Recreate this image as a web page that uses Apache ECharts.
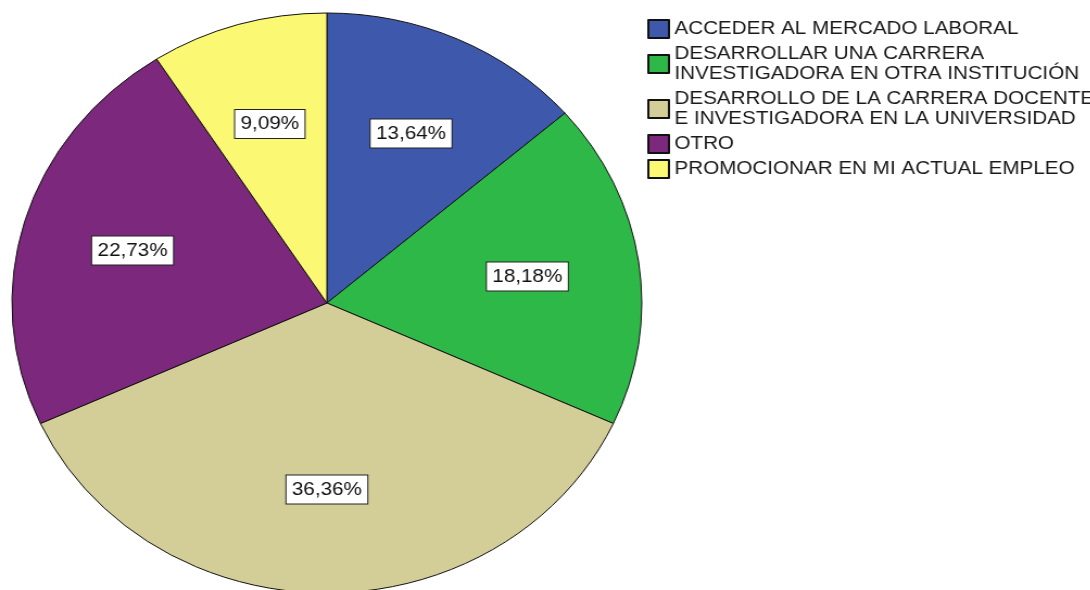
<!DOCTYPE html>
<html>
<head>
<meta charset="utf-8">
<script src="https://cdn.jsdelivr.net/npm/echarts@6/dist/echarts.min.js"></script>
<style>
  html, body { margin: 0; padding: 0; background: #fff; overflow: hidden; }
  /* the source picture is stretched sideways, so the whole chart is too */
  #main { position: absolute; left: 0; top: 0; width: 1004px; height: 590px;
          transform: scaleX(1.086); transform-origin: 0 0; }
</style>
</head>
<body>
<div id="main"></div>
<script>
const categories = [
  'ACCEDER AL MERCADO LABORAL',
  'DESARROLLAR UNA CARRERA\nINVESTIGADORA EN OTRA INSTITUCIÓN',
  'DESARROLLO DE LA CARRERA DOCENTE\nE INVESTIGADORA EN LA UNIVERSIDAD',
  'OTRO',
  'PROMOCIONAR EN MI ACTUAL EMPLEO'
]
const percents = [13.64, 18.18, 36.36, 22.73, 9.09]
const colors = ['#3E58AC', '#2EB848', '#D3CE97', '#7C287D', '#FBF873']

const CX = 301, CY = 303, R = 290
const LABEL_K = 1.26 // push the inside labels out a bit, like the source

const chart = echarts.init(document.getElementById('main'))
const font = '"Liberation Sans", Arial, sans-serif'

chart.setOption({
  animation: false,
  backgroundColor: '#fff',
  legend: {
    orient: 'vertical',
    left: 591,
    top: 14,
    itemGap: 5,
    itemWidth: 19,
    itemHeight: 18,
    icon: 'rect',
    selectedMode: false,
    textStyle: { fontFamily: font, fontSize: 19, lineHeight: 20, color: '#1a1a1a' },
    data: categories
  },
  series: [
    {
      type: 'pie',
      center: [CX, CY],
      radius: R,
      startAngle: 90,
      clockwise: true,
      silent: true,
      itemStyle: { borderColor: '#111', borderWidth: 1 },
      label: {
        show: true,
        position: 'inside',
        fontFamily: font,
        fontSize: 19,
        color: '#111',
        backgroundColor: '#fff',
        borderColor: '#222',
        borderWidth: 1,
        padding: [5, 5, 4, 5],
        formatter: p => p.value.toFixed(2).replace('.', ',') + '%'
      },
      labelLine: { show: false },
      labelLayout: function (p) {
        const r = p.labelRect
        const lx = r.x + r.width / 2, ly = r.y + r.height / 2
        return {
          x: CX + (lx - CX) * LABEL_K,
          y: CY + (ly - CY) * LABEL_K,
          align: 'center',
          verticalAlign: 'middle'
        }
      },
      data: categories.map((name, i) => ({
        name: name,
        value: percents[i],
        itemStyle: { color: colors[i] }
      }))
    }
  ]
})
</script>
</body>
</html>
